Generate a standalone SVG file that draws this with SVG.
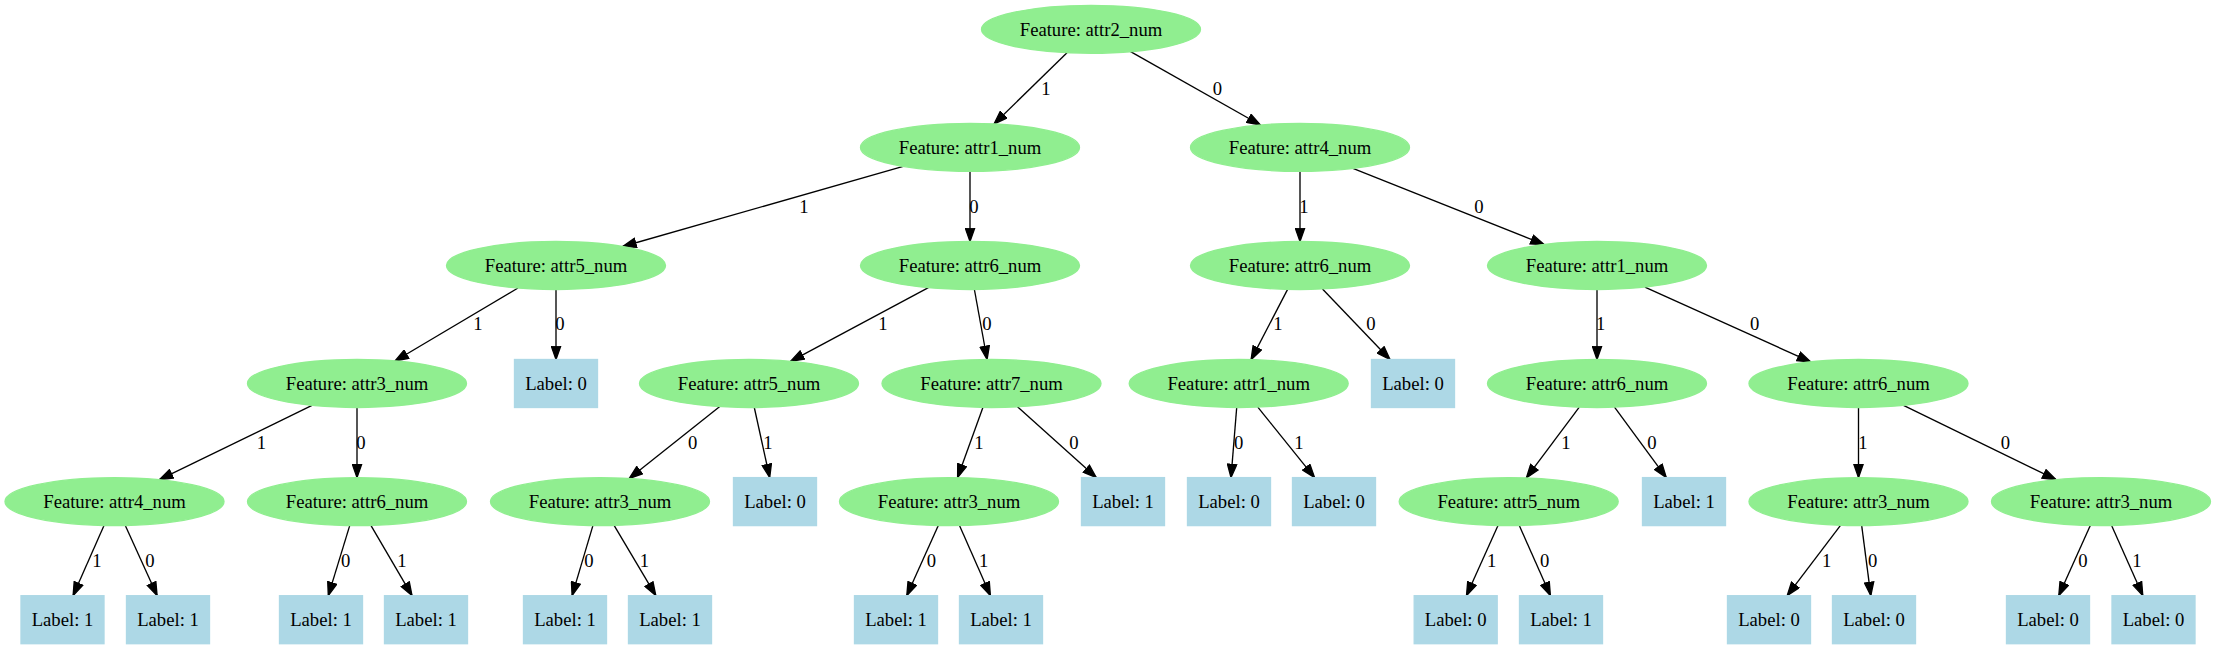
<svg xmlns="http://www.w3.org/2000/svg" width="2216" height="649" viewBox="0 0 2216 649">
<style>
.f ellipse{fill:#90ee90;stroke:#90ee90;stroke-width:1.33}
.b rect{fill:#add8e6;stroke:#add8e6;stroke-width:1.33}
text{font-family:"Liberation Serif","Times New Roman",serif;font-size:18.67px;fill:#000;text-anchor:middle}
#edges line{stroke:#000;stroke-width:1.33;fill:none;marker-end:url(#arr)}
</style>
<defs>
<marker id="arr" markerUnits="userSpaceOnUse" markerWidth="15" markerHeight="11" viewBox="0 0 15 11" refX="14" refY="5.5" orient="auto">
<path d="M0.7,0.83 L14,5.5 L0.7,10.17 Z" fill="#000" stroke="#000" stroke-width="1.33"/>
</marker>
</defs>
<rect width="2216" height="649" fill="#fff"/>
<g id="edges">
<line x1="1067.0" y1="52.7" x2="994.0" y2="124.0"/>
<line x1="1130.6" y1="51.7" x2="1260.4" y2="125.0"/>
<line x1="903.2" y1="166.4" x2="622.8" y2="246.5"/>
<line x1="970" y1="171.4" x2="970" y2="241.5"/>
<line x1="1300" y1="171.4" x2="1300" y2="241.5"/>
<line x1="1352.9" y1="168.4" x2="1544.1" y2="244.5"/>
<line x1="518.0" y1="288.0" x2="395.0" y2="361.0"/>
<line x1="556" y1="289.5" x2="556" y2="359.5"/>
<line x1="928.4" y1="287.7" x2="790.6" y2="361.3"/>
<line x1="974.4" y1="289.5" x2="987.1" y2="359.5"/>
<line x1="1287.6" y1="289.4" x2="1251.1" y2="359.6"/>
<line x1="1322.5" y1="289.0" x2="1390.0" y2="359.5"/>
<line x1="1597" y1="289.5" x2="1597" y2="359.5"/>
<line x1="1644.9" y1="287.1" x2="1810.7" y2="361.9"/>
<line x1="312.0" y1="405.4" x2="159.5" y2="479.7"/>
<line x1="357" y1="407.5" x2="357" y2="477.6"/>
<line x1="719.8" y1="406.6" x2="629.2" y2="478.5"/>
<line x1="754.3" y1="407.5" x2="769.7" y2="477.6"/>
<line x1="982.9" y1="407.4" x2="957.6" y2="477.6"/>
<line x1="1017.5" y1="406.8" x2="1096.3" y2="477.6"/>
<line x1="1236.7" y1="407.5" x2="1231.0" y2="477.6"/>
<line x1="1257.8" y1="407.1" x2="1314.6" y2="477.6"/>
<line x1="1579.3" y1="407.2" x2="1526.4" y2="477.9"/>
<line x1="1614.5" y1="407.2" x2="1666.3" y2="477.6"/>
<line x1="1858.5" y1="407.5" x2="1858.5" y2="477.6"/>
<line x1="1903.5" y1="405.4" x2="2056.0" y2="479.7"/>
<line x1="104.0" y1="525.5" x2="73.1" y2="595.6"/>
<line x1="125.3" y1="525.5" x2="157.1" y2="595.6"/>
<line x1="349.7" y1="525.6" x2="328.3" y2="595.6"/>
<line x1="370.9" y1="525.4" x2="412.0" y2="595.6"/>
<line x1="592.9" y1="525.6" x2="572.1" y2="595.6"/>
<line x1="614.1" y1="525.4" x2="655.8" y2="595.6"/>
<line x1="938.3" y1="525.5" x2="906.8" y2="595.6"/>
<line x1="959.5" y1="525.5" x2="990.4" y2="595.6"/>
<line x1="1498.0" y1="525.5" x2="1466.5" y2="595.6"/>
<line x1="1519.3" y1="525.5" x2="1550.4" y2="595.6"/>
<line x1="1840.5" y1="525.3" x2="1787.2" y2="595.6"/>
<line x1="1861.7" y1="525.6" x2="1870.8" y2="595.6"/>
<line x1="2090.3" y1="525.5" x2="2058.8" y2="595.6"/>
<line x1="2111.6" y1="525.5" x2="2142.8" y2="595.6"/>
<g id="edge-labels">
<text x="1046" y="94.5">1</text>
<text x="1217.5" y="94.5">0</text>
<text x="804" y="212.5">1</text>
<text x="974" y="212.5">0</text>
<text x="1304" y="212.5">1</text>
<text x="1479" y="212.5">0</text>
<text x="478" y="329.5">1</text>
<text x="560" y="329.5">0</text>
<text x="883" y="329.5">1</text>
<text x="987" y="329.5">0</text>
<text x="1278" y="329.5">1</text>
<text x="1371" y="329.5">0</text>
<text x="1600.6" y="329.5">1</text>
<text x="1754.6" y="329.5">0</text>
<text x="261.5" y="448.5">1</text>
<text x="361" y="448.5">0</text>
<text x="692.6" y="448.5">0</text>
<text x="768" y="448.5">1</text>
<text x="979" y="448.5">1</text>
<text x="1074" y="448.5">0</text>
<text x="1238.7" y="448.5">0</text>
<text x="1298.8" y="448.5">1</text>
<text x="1566" y="448.5">1</text>
<text x="1652" y="448.5">0</text>
<text x="1862.8" y="448.5">1</text>
<text x="2005.5" y="448.5">0</text>
<text x="97" y="566.5">1</text>
<text x="150" y="566.5">0</text>
<text x="345.6" y="566.5">0</text>
<text x="402" y="566.5">1</text>
<text x="589" y="566.5">0</text>
<text x="644.5" y="566.5">1</text>
<text x="931.4" y="566.5">0</text>
<text x="983.7" y="566.5">1</text>
<text x="1491.7" y="566.5">1</text>
<text x="1544.7" y="566.5">0</text>
<text x="1826.7" y="566.5">1</text>
<text x="1872.7" y="566.5">0</text>
<text x="2083" y="566.5">0</text>
<text x="2137" y="566.5">1</text>
</g>
</g>
<g id="n0" class="f"><ellipse cx="1091" cy="29.3" rx="109.5" ry="24"/><text x="1091" y="35.5">Feature: attr2_num</text></g>
<g id="n1" class="f"><ellipse cx="970" cy="147.4" rx="109.5" ry="24"/><text x="970" y="153.6">Feature: attr1_num</text></g>
<g id="n2" class="f"><ellipse cx="1300" cy="147.4" rx="109.5" ry="24"/><text x="1300" y="153.6">Feature: attr4_num</text></g>
<g id="n3" class="f"><ellipse cx="556" cy="265.5" rx="109.5" ry="24"/><text x="556" y="271.7">Feature: attr5_num</text></g>
<g id="n4" class="f"><ellipse cx="970" cy="265.5" rx="109.5" ry="24"/><text x="970" y="271.7">Feature: attr6_num</text></g>
<g id="n5" class="f"><ellipse cx="1300" cy="265.5" rx="109.5" ry="24"/><text x="1300" y="271.7">Feature: attr6_num</text></g>
<g id="n6" class="f"><ellipse cx="1597" cy="265.5" rx="109.5" ry="24"/><text x="1597" y="271.7">Feature: attr1_num</text></g>
<g id="n7" class="f"><ellipse cx="357" cy="383.5" rx="109.5" ry="24"/><text x="357" y="389.7">Feature: attr3_num</text></g>
<g id="n8" class="b"><rect x="514.5" y="359.5" width="83" height="48"/><text x="556" y="389.7">Label: 0</text></g>
<g id="n9" class="f"><ellipse cx="749" cy="383.5" rx="109.5" ry="24"/><text x="749" y="389.7">Feature: attr5_num</text></g>
<g id="n10" class="f"><ellipse cx="991.5" cy="383.5" rx="109.5" ry="24"/><text x="991.5" y="389.7">Feature: attr7_num</text></g>
<g id="n11" class="f"><ellipse cx="1238.7" cy="383.5" rx="109.5" ry="24"/><text x="1238.7" y="389.7">Feature: attr1_num</text></g>
<g id="n12" class="b"><rect x="1371.5" y="359.5" width="83" height="48"/><text x="1413" y="389.7">Label: 0</text></g>
<g id="n13" class="f"><ellipse cx="1597" cy="383.5" rx="109.5" ry="24"/><text x="1597" y="389.7">Feature: attr6_num</text></g>
<g id="n14" class="f"><ellipse cx="1858.5" cy="383.5" rx="109.5" ry="24"/><text x="1858.5" y="389.7">Feature: attr6_num</text></g>
<g id="n15" class="f"><ellipse cx="114.5" cy="501.6" rx="109.5" ry="24"/><text x="114.5" y="507.8">Feature: attr4_num</text></g>
<g id="n16" class="f"><ellipse cx="357" cy="501.6" rx="109.5" ry="24"/><text x="357" y="507.8">Feature: attr6_num</text></g>
<g id="n17" class="f"><ellipse cx="600" cy="501.6" rx="109.5" ry="24"/><text x="600" y="507.8">Feature: attr3_num</text></g>
<g id="n18" class="b"><rect x="733.5" y="477.6" width="83" height="48"/><text x="775" y="507.8">Label: 0</text></g>
<g id="n19" class="f"><ellipse cx="949" cy="501.6" rx="109.5" ry="24"/><text x="949" y="507.8">Feature: attr3_num</text></g>
<g id="n20" class="b"><rect x="1081.5" y="477.6" width="83" height="48"/><text x="1123" y="507.8">Label: 1</text></g>
<g id="n21" class="b"><rect x="1187.5" y="477.6" width="83" height="48"/><text x="1229" y="507.8">Label: 0</text></g>
<g id="n22" class="b"><rect x="1292.5" y="477.6" width="83" height="48"/><text x="1334" y="507.8">Label: 0</text></g>
<g id="n23" class="f"><ellipse cx="1508.7" cy="501.6" rx="109.5" ry="24"/><text x="1508.7" y="507.8">Feature: attr5_num</text></g>
<g id="n24" class="b"><rect x="1642.5" y="477.6" width="83" height="48"/><text x="1684" y="507.8">Label: 1</text></g>
<g id="n25" class="f"><ellipse cx="1858.5" cy="501.6" rx="109.5" ry="24"/><text x="1858.5" y="507.8">Feature: attr3_num</text></g>
<g id="n26" class="f"><ellipse cx="2101" cy="501.6" rx="109.5" ry="24"/><text x="2101" y="507.8">Feature: attr3_num</text></g>
<g id="n27" class="b"><rect x="21" y="595.7" width="83" height="48"/><text x="62.5" y="625.9">Label: 1</text></g>
<g id="n28" class="b"><rect x="126.5" y="595.7" width="83" height="48"/><text x="168" y="625.9">Label: 1</text></g>
<g id="n29" class="b"><rect x="279.5" y="595.7" width="83" height="48"/><text x="321" y="625.9">Label: 1</text></g>
<g id="n30" class="b"><rect x="384.5" y="595.7" width="83" height="48"/><text x="426" y="625.9">Label: 1</text></g>
<g id="n31" class="b"><rect x="523.5" y="595.7" width="83" height="48"/><text x="565" y="625.9">Label: 1</text></g>
<g id="n32" class="b"><rect x="628.5" y="595.7" width="83" height="48"/><text x="670" y="625.9">Label: 1</text></g>
<g id="n33" class="b"><rect x="854.5" y="595.7" width="83" height="48"/><text x="896" y="625.9">Label: 1</text></g>
<g id="n34" class="b"><rect x="959.5" y="595.7" width="83" height="48"/><text x="1001" y="625.9">Label: 1</text></g>
<g id="n35" class="b"><rect x="1414.2" y="595.7" width="83" height="48"/><text x="1455.7" y="625.9">Label: 0</text></g>
<g id="n36" class="b"><rect x="1519.5" y="595.7" width="83" height="48"/><text x="1561" y="625.9">Label: 1</text></g>
<g id="n37" class="b"><rect x="1727.5" y="595.7" width="83" height="48"/><text x="1769" y="625.9">Label: 0</text></g>
<g id="n38" class="b"><rect x="1832.5" y="595.7" width="83" height="48"/><text x="1874" y="625.9">Label: 0</text></g>
<g id="n39" class="b"><rect x="2006.5" y="595.7" width="83" height="48"/><text x="2048" y="625.9">Label: 0</text></g>
<g id="n40" class="b"><rect x="2112" y="595.7" width="83" height="48"/><text x="2153.5" y="625.9">Label: 0</text></g>
</svg>
